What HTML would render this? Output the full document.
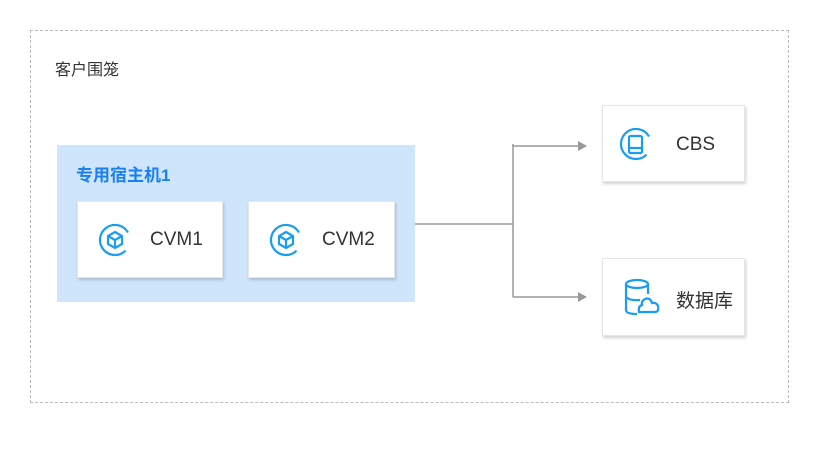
<!DOCTYPE html>
<html><head><meta charset="utf-8"><style>
body{margin:0;width:818px;height:462px;background:#fff;position:relative;overflow:hidden;font-family:"Liberation Sans","Noto Sans CJK SC",sans-serif}
.a{position:absolute}
.box{position:absolute;background:#fff;box-shadow:1px 2px 3px rgba(0,0,0,0.18);border:1px solid #e6e6e6;box-sizing:border-box}
.t{position:absolute;font-size:19px;color:#333}
</style></head><body>
<div class="a" style="left:30px;top:30px;width:759px;height:373px;border:1.5px dashed #bbb;box-sizing:border-box"></div>
<div class="a" style="left:55px;top:56px;font-size:16px;color:#333">客户围笼</div>
<div class="a" style="left:57px;top:145px;width:358px;height:157px;background:#cfe5fc"></div>
<div class="a" style="left:76px;top:161px;font-size:17px;color:#1a7ff0;font-weight:bold">专用宿主机1</div>
<div class="box" style="left:77px;top:201px;width:146px;height:77px"></div>
<div class="box" style="left:248px;top:201px;width:147px;height:77px"></div>
<div class="box" style="left:602px;top:105px;width:143px;height:77px"></div>
<div class="box" style="left:602px;top:258px;width:143px;height:78px"></div>
<div class="t" style="left:150px;top:229px">CVM1</div>
<div class="t" style="left:322px;top:229px">CVM2</div>
<div class="t" style="left:676px;top:134px">CBS</div>
<div class="t" style="left:676px;top:286px">数据库</div>
<svg class="a" style="left:0;top:0" width="818" height="462">
<g fill="none" stroke="#999" stroke-width="1.5">
<path d="M415 224H513M513 144V297M513 146H578M513 297H578"/>
</g>
<path d="M578 141L587 146L578 151Z" fill="#999"/>
<path d="M578 292L587 297L578 302Z" fill="#999"/>
<g fill="none" stroke="#1a9cf0" stroke-width="2.2">
<path d="M125.6 250.6A15 15 0 1 1 128 232.5"/>
<path d="M115 232L122 236V244L115 248L108 244V236Z M108 236L115 240L122 236M115 240V248"/>
<path d="M296.6 250.6A15 15 0 1 1 299 232.5"/>
<path d="M286 232L293 236V244L286 248L279 244V236Z M279 236L286 240L293 236M286 240V248"/>
<path d="M646.6 154.6A15 15 0 1 1 649 136.5"/>
<rect x="629" y="136" width="13" height="17" rx="1.5"/><path d="M629 148H642"/>
<ellipse cx="637" cy="284" rx="11" ry="4"/>
<path d="M626 284V310Q626 314 637 314M648 284V294M626 297Q630 301 640 300"/>
<path d="M639 312H655Q659 312 658 306Q656 302 652 303Q650 297 645 299Q641 301 642 305Q638 306 639 312Z"/>
</g>
</svg>
</body></html>
